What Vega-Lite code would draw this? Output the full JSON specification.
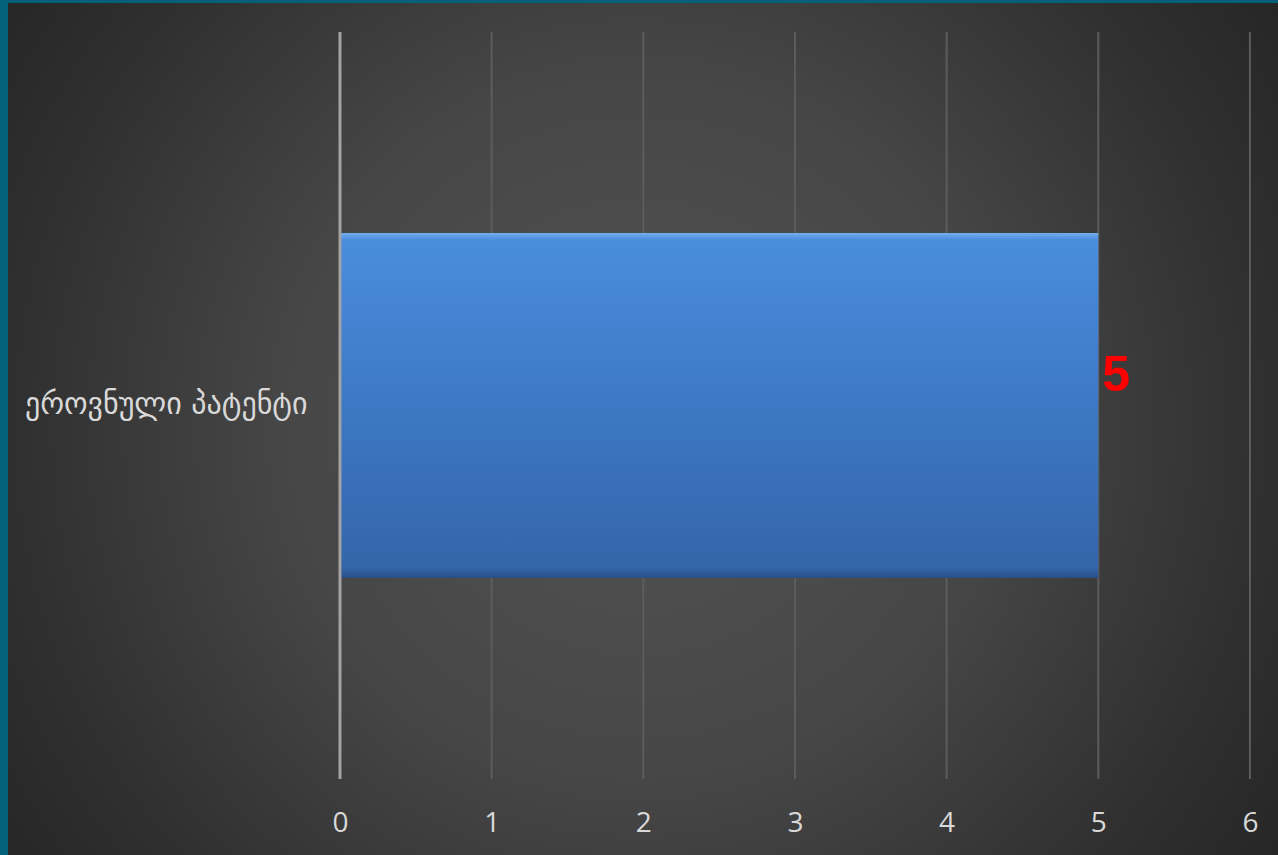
{
  "$schema": "https://vega.github.io/schema/vega-lite/v6.json",
  "width": 1270,
  "height": 852,
  "autosize": {"type": "none"},
  "padding": {"left": 8, "top": 3, "right": 0, "bottom": 0},
  "background": "#05607a",
  "datasets": {
    "bars": [{"cat": "ეროვნული პატენტი", "value": 5}],
    "grid": [
      {"cat": "ეროვნული პატენტი", "v": 0},
      {"cat": "ეროვნული პატენტი", "v": 1},
      {"cat": "ეროვნული პატენტი", "v": 2},
      {"cat": "ეროვნული პატენტი", "v": 3},
      {"cat": "ეროვნული პატენტი", "v": 4},
      {"cat": "ეროვნული პატენტი", "v": 5},
      {"cat": "ეროვნული პატენტი", "v": 6}
    ]
  },
  "layer": [
    {
      "data": {"name": "grid"},
      "transform": [{"filter": "datum.v > 0"}],
      "mark": {"type": "tick", "size": 747, "thickness": 2, "color": "#5c5c5c", "opacity": 1},
      "encoding": {
        "x": {"field": "v", "type": "quantitative", "scale": {"domain": [-2.189, 6.185], "nice": false, "zero": false},
          "axis": {"orient": "bottom", "values": [0, 1, 2, 3, 4, 5, 6], "format": "d", "title": null, "domain": false, "ticks": false, "tickSize": 0, "grid": false,
            "offset": -24, "labelPadding": 0, "labelBaseline": "alphabetic", "labelFont": "Open Sans", "labelFontSize": 28, "labelColor": "#d9d9d9"}},
        "y": {"field": "cat", "type": "nominal", "scale": {"paddingInner": 0, "paddingOuter": 0.7348, "align": 0.4536},
          "axis": {"orient": "left", "title": null, "domain": false, "ticks": false, "tickSize": 0, "grid": false, "offset": -299, "labelPadding": 0,
            "labelFont": "DejaVu Sans", "labelFontSize": 30, "labelColor": "#d9d9d9", "labelLimit": 0, "labelAlign": "right", "labelBaseline": "middle"}}
      }
    },
    {
      "data": {"name": "bars"},
      "mark": {"type": "bar", "fill": {"gradient": "linear", "x1": 0, "y1": 0, "x2": 0, "y2": 1,
        "stops": [
          {"offset": 0, "color": "#74aef0"},
          {"offset": 0.02, "color": "#4a8ddd"},
          {"offset": 0.5, "color": "#3d78c4"},
          {"offset": 0.97, "color": "#3465aa"},
          {"offset": 1, "color": "#284f86"}
        ]}, "opacity": 1},
      "encoding": {
        "x": {"field": "value", "type": "quantitative", "scale": {"domain": [-2.189, 6.185], "nice": false, "zero": false}},
        "y": {"field": "cat", "type": "nominal"}
      }
    },
    {
      "data": {"name": "grid"},
      "transform": [{"filter": "datum.v == 0"}],
      "mark": {"type": "tick", "size": 747, "thickness": 3, "color": "#a3a3a3", "opacity": 1},
      "encoding": {
        "x": {"field": "v", "type": "quantitative", "scale": {"domain": [-2.189, 6.185], "nice": false, "zero": false}},
        "y": {"field": "cat", "type": "nominal"}
      }
    },
    {
      "data": {"name": "bars"},
      "mark": {"type": "text", "align": "left", "baseline": "alphabetic", "dx": 4, "dy": -14, "font": "Liberation Sans", "fontWeight": "bold", "fontSize": 50, "color": "#ff0000"},
      "encoding": {
        "x": {"field": "value", "type": "quantitative", "scale": {"domain": [-2.189, 6.185], "nice": false, "zero": false}},
        "y": {"field": "cat", "type": "nominal"},
        "text": {"field": "value", "type": "quantitative"}
      }
    }
  ],
  "config": {
    "view": {"stroke": null, "fill": {"gradient": "radial", "x1": 0.497, "y1": 0.499, "r1": 0, "x2": 0.497, "y2": 0.499, "r2": 0.606,
      "stops": [
        {"offset": 0, "color": "#535353"},
        {"offset": 0.465, "color": "#464646"},
        {"offset": 0.805, "color": "#303030"},
        {"offset": 1, "color": "#262626"}
      ]}}
  }
}
